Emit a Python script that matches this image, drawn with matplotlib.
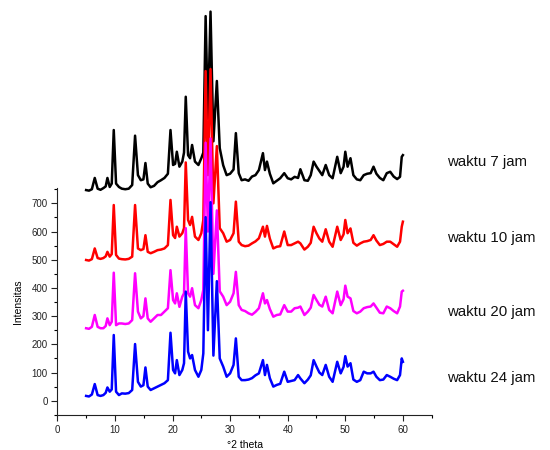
import matplotlib
matplotlib.use("Agg")
import matplotlib.pyplot as plt
from matplotlib.ticker import MultipleLocator

plt.rcParams['font.family'] = ['Liberation Sans', 'DejaVu Sans']

two_theta = [
    5.0, 5.5, 6.0, 6.5, 7.0, 7.5, 8.0, 8.4, 8.7, 9.1,
    9.45, 9.8, 10.2, 10.7, 11.2, 11.8, 12.4, 13.0, 13.5, 14.0,
    14.5, 14.95, 15.3, 15.7, 16.2, 16.8, 17.4, 18.0, 18.6, 19.2,
    19.65, 20.1, 20.45, 20.75, 21.2, 21.7, 22.0, 22.3, 22.7, 23.05,
    23.4, 23.9, 24.5, 25.0, 25.35, 25.75, 26.15, 26.6, 27.1, 27.7,
    28.2, 28.8, 29.4, 30.0, 30.6, 31.0, 31.5, 32.0, 32.6, 33.2,
    33.8, 34.4, 35.0, 35.7, 36.05, 36.4, 36.9, 37.5, 38.1, 38.7,
    39.4, 40.0, 40.6, 41.2, 41.8, 42.2, 42.9, 43.5, 44.0, 44.5,
    45.0, 45.5, 46.0, 46.6, 47.2, 47.8, 48.6, 49.2, 49.7, 50.0,
    50.4, 50.9, 51.4, 52.0, 52.6, 53.2, 53.8, 54.4, 54.9, 55.4,
    56.0, 56.6, 57.2, 57.8, 58.4, 59.0, 59.5, 59.8, 60.0,
]

waktu_7 = [
    747, 745, 750, 790, 752, 748, 754, 760, 790, 758,
    770, 960, 770, 758, 752, 750, 752, 765, 940, 800,
    782, 785, 843, 770, 757, 762, 775, 782, 790, 805,
    960, 836, 840, 883, 830, 848, 880, 1078, 871, 860,
    907, 848, 836, 860, 880, 1364, 1000, 1380, 920, 1134,
    896, 835, 800, 805, 820, 949, 807, 782, 785, 780,
    795, 800, 818, 878, 818, 848, 805, 771, 780, 789,
    807, 789, 785, 794, 790, 821, 782, 780, 800, 848,
    830, 815, 800, 836, 800, 789, 865, 807, 830, 883,
    830, 860, 800, 785, 782, 800, 805, 807, 830, 805,
    790, 782, 807, 812, 795, 786, 794, 865, 871,
]

waktu_10 = [
    499, 497, 502, 540, 506, 503, 506, 512, 528, 511,
    520, 694, 517, 504, 502, 501, 503, 511, 694, 540,
    534, 538, 587, 528, 523, 528, 534, 536, 540, 552,
    712, 587, 577, 617, 582, 594, 612, 845, 641, 623,
    652, 582, 570, 594, 641, 1169, 800, 1176, 700, 903,
    612, 594, 564, 570, 594, 706, 564, 552, 548, 550,
    558, 565, 576, 617, 582, 620, 575, 540, 546, 548,
    600, 552, 552, 558, 564, 558, 536, 546, 560, 617,
    594, 575, 564, 608, 564, 546, 617, 570, 590, 641,
    594, 611, 560, 550, 558, 564, 566, 570, 587, 568,
    552, 556, 564, 564, 555, 546, 564, 617, 635,
]

waktu_20 = [
    257, 255, 262, 304, 262, 257, 257, 265, 292, 268,
    280, 454, 268, 274, 274, 272, 274, 286, 452, 316,
    292, 300, 363, 292, 280, 292, 304, 304, 316, 328,
    463, 357, 345, 381, 333, 369, 381, 612, 381, 369,
    399, 339, 328, 357, 393, 915, 600, 930, 450, 675,
    388, 369, 339, 351, 381, 457, 339, 322, 318, 310,
    305, 315, 328, 381, 345, 357, 325, 298, 304, 306,
    339, 316, 316, 328, 330, 334, 304, 316, 330, 375,
    357, 340, 334, 369, 322, 310, 387, 339, 360, 408,
    369, 363, 318, 310, 316, 328, 332, 334, 345, 330,
    312, 310, 334, 328, 318, 310, 334, 387, 390,
]

waktu_24 = [
    17, 15, 22, 59, 20, 17, 20, 28, 47, 32,
    40, 233, 32, 20, 26, 25, 27, 38, 201, 67,
    50, 55, 118, 50, 38, 44, 50, 56, 62, 73,
    241, 109, 97, 144, 91, 109, 133, 387, 174, 150,
    162, 109, 85, 109, 168, 651, 250, 704, 160, 424,
    150, 121, 85, 97, 127, 221, 85, 73, 73, 75,
    80, 90, 97, 144, 91, 127, 80, 50, 56, 60,
    103, 67, 70, 73, 91, 79, 62, 75, 90, 144,
    121, 100, 91, 127, 85, 67, 138, 97, 120, 158,
    121, 133, 75, 67, 73, 103, 97, 97, 103, 85,
    73, 75, 91, 85, 78, 73, 91, 150, 138,
]

series = [
    ("waktu 7 jam", waktu_7, "#000000"),
    ("waktu 10 jam", waktu_10, "#FF0000"),
    ("waktu 20 jam", waktu_20, "#FF00FF"),
    ("waktu 24 jam", waktu_24, "#0000FF"),
]
label_y = [0.64, 0.472, 0.307, 0.16]

fig = plt.figure(figsize=(5.5, 4.5), dpi=100)
ax = fig.add_axes([0.1042, 0.0782, 0.6807, 0.5044])

for name, vals, col in series:
    ax.plot(two_theta, vals, color=col, lw=1.8, clip_on=False)

ax.set_xlim(0, 65)
ax.set_ylim(-50, 755)
ax.xaxis.set_major_locator(MultipleLocator(10))
ax.xaxis.set_minor_locator(MultipleLocator(5))
ax.yaxis.set_major_locator(MultipleLocator(100))
ax.yaxis.set_minor_locator(MultipleLocator(50))
ax.set_yticks(range(0, 800, 100))
ax.tick_params(which='major', direction='out', length=4, width=0.8, labelsize=7, colors='#222222', pad=3)
ax.tick_params(which='minor', direction='out', length=2.5, width=0.8)
for s in ['top', 'right']:
    ax.spines[s].set_visible(False)
for s in ['left', 'bottom']:
    ax.spines[s].set_linewidth(0.8)
    ax.spines[s].set_color('#222222')

ax.set_xlabel('°2 theta', fontsize=7.5, labelpad=4)
ax.set_ylabel('Intensitas', fontsize=7.5, labelpad=6)

for (name, vals, col), yy in zip(series, label_y):
    fig.text(0.812, yy, name, fontsize=10.8, va='center', ha='left', color='#111111')

fig.savefig('out.png', dpi=100)
